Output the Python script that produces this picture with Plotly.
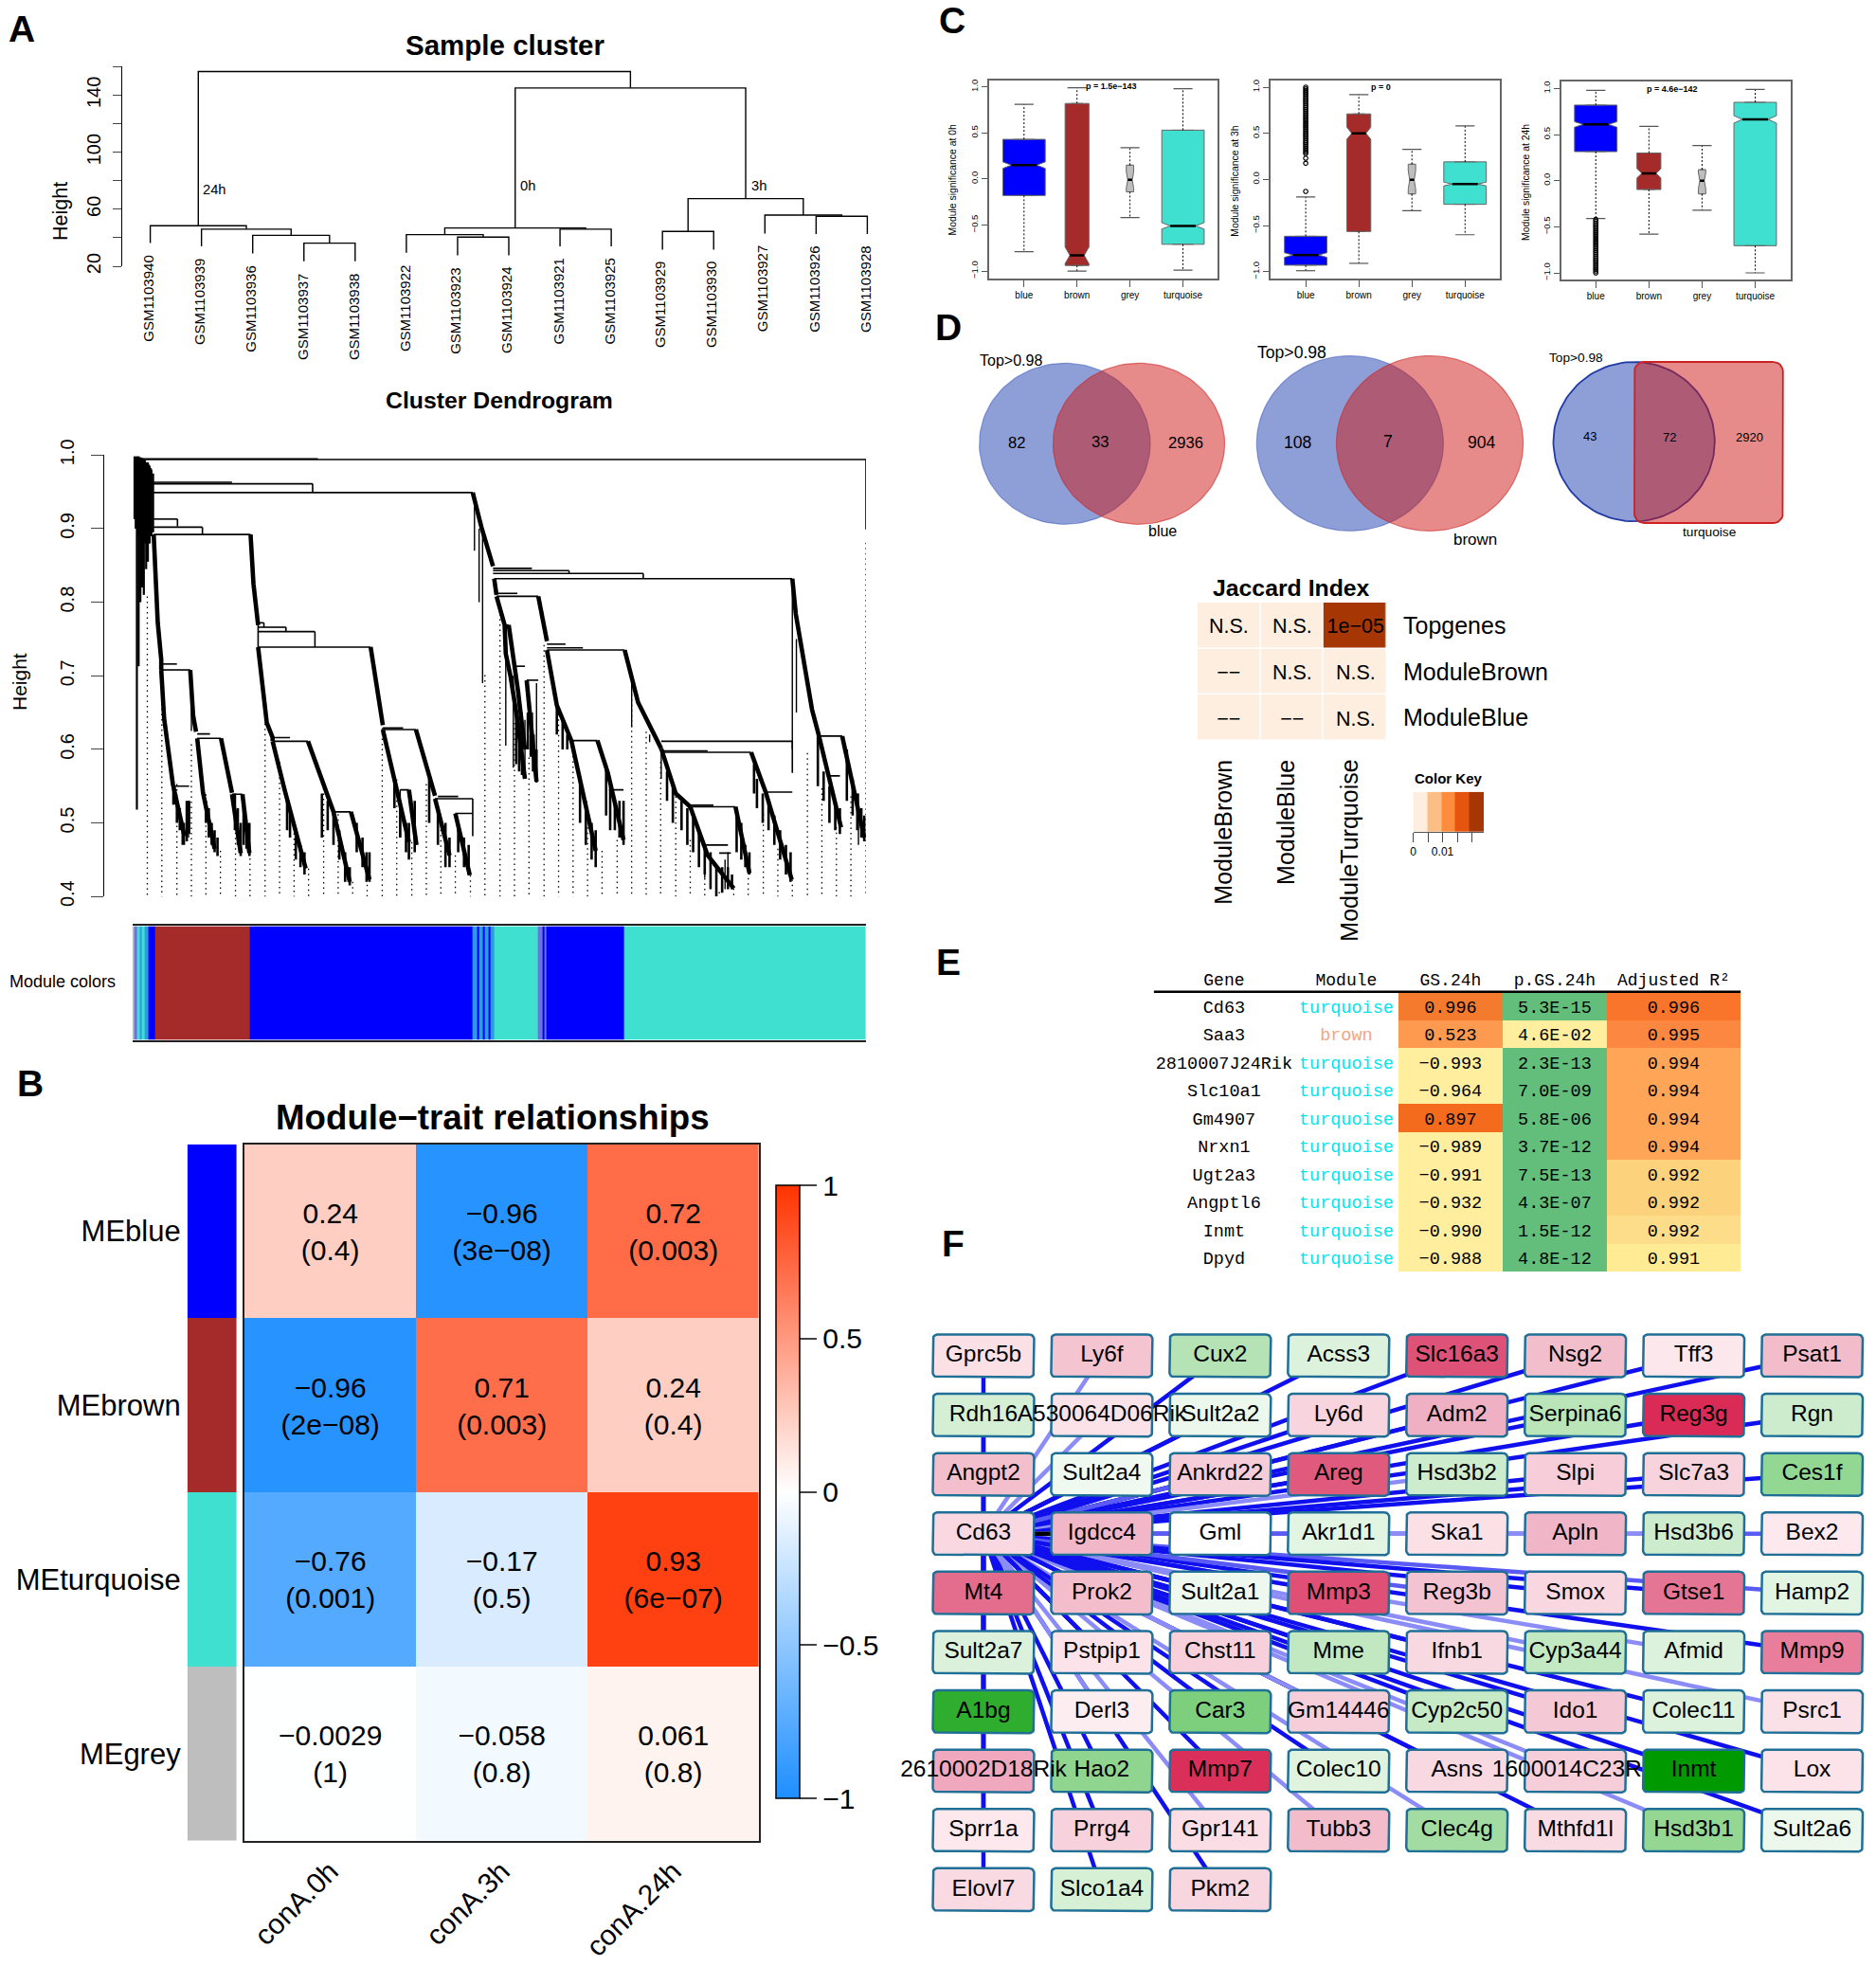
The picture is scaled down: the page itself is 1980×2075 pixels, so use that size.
import math
import plotly.graph_objects as go

W, H = 1980, 2075
SANS = "Liberation Sans"
MONO = "Liberation Mono"

# ---------- Panel A: sample dendrogram ----------
sample_ids = ["GSM1103940","GSM1103939","GSM1103936","GSM1103937","GSM1103938",
              "GSM1103922","GSM1103923","GSM1103924","GSM1103921","GSM1103925",
              "GSM1103929","GSM1103930","GSM1103927","GSM1103926","GSM1103928"]
leaf_hang = [36.2,34,29,23.5,23.5,29.5,27.7,27.7,34,34,31.7,31.7,43,42.6,42.6]
# hclust style merges: non-negative = leaf index, "m#" = earlier merge
merge_left  = [3,2,1,0,6,5,8,"m5",10,13,12,"m8","m7","m3"]
merge_right = [4,"m0","m1","m2",7,"m4",9,"m6",11,14,"m9","m10","m11","m12"]
merge_height = [36.2,41.7,46,48.4,40.4,42.2,46,46.8,44.4,55,55.9,67.4,145,156.5]

# ---------- Panel A: gene dendrogram ----------
bracket_left  = [232,232,262,262,262,265,265,265,445,445,445,445,278,278,298,340,340,400,470,470,575,660,660,690,750,755,785,
                 850,850,850,852,856,856,870,890,908,943,943,943,985,1050,1140,1142,1142,1190,1190,1320,1412,1430,1210,1240]
bracket_right = [1493,548,400,539,815,306,349,432,455,493,543,639,328,305,326,381,362,418,531,500,605,717,695,705,815,790,815,
                 917,981,1109,1366,928,892,877,905,928,1077,1005,975,1030,1075,1366,1295,1220,1268,1230,1366,1452,1448,1255,1260]
bracket_height = [.994,.995,.963,.961,.949,.913,.902,.892,.772,.766,.760,.739,.708,.716,.550,.615,.621,.539,.611,.616,.515,.627,.629,.545,.533,.536,.513,
                  .846,.843,.839,.832,.808,.812,.769,.713,.694,.735,.738,.743,.612,.545,.611,.596,.598,.522,.524,.542,.618,.564,.470,.459]
drop_x    = [1493,539,306,349,493,543,981,1109,815,1366,445,455]
drop_top  = [.994,.961,.913,.902,.766,.760,.843,.839,.533,.611,.772,.772]
drop_low  = [.899,.949,.903,.892,.760,.739,.839,.832,.482,.568,.739,.766]
waterfall_x = [
 [815,830,850],[432,437,445],[265,272,278,278],[278,283,298,318],[328,333,338],[340,350,370],[381,400],[400,415],[418,430],
 [445,460,470,470],[470,490,527],[531,575],[575,603],[605,620,637],[639,660],[660,680,705],[717,750],[750,775],[785,810],
 [705,718],[852,856],[856,870,872,880,892,905],[877,893,905],[908,925],[928,943],[943,960,985],[985,1027],[1030,1048,1075],
 [1077,1100,1140],[1140,1165,1190],[1190,1220,1265],[1268,1292],[1295,1320],[1320,1365],[1366,1372,1400,1412],[1412,1450],[1452,1490]]
waterfall_h = [
 [.949,.902,.849],[.892,.825,.769],[.892,.772,.722,.708],[.708,.642,.553,.482],[.708,.646,.624],[.615,.541,.465],[.615,.541],[.539,.459],[.539,.459],
 [.739,.636,.616,.611],[.611,.547,.438],[.611,.515],[.515,.420],[.515,.474,.423],[.739,.633],[.627,.559,.474],[.627,.537],[.533,.456],[.513,.429],
 [.545,.47],[.832,.810],[.808,.769,.73,.70,.64,.56],[.769,.68,.60],[.694,.556],[.808,.747],[.735,.66,.612],[.612,.462],[.612,.568,.477],
 [.735,.664,.601],[.601,.54,.522],[.522,.456,.411],[.522,.432],[.596,.542],[.542,.423],[.832,.784,.654,.618],[.618,.494],[.618,.480]]
mess_x   = [232,234,236,238,239,241,242,244,245,247,248,250,252,253,255,257,258,260,261,264]
mess_top = [.998,.998,.998,.998,.998,.997,.997,.996,.996,.995,.995,.993,.99,.99,.99,.987,.985,.982,.98,.975]
mess_low = [.913,.90,.518,.89,.713,.89,.80,.89,.82,.88,.81,.88,.845,.88,.855,.88,.88,.89,.89,.895]
spike_x   = [818,826,832,872,885,900,905,925,918,1089,1120,1373,1366,330,1140,298,318,325,690,1215,1255,1250,1480]
spike_top = [.93,.90,.90,.77,.70,.65,.64,.69,.65,.70,.62,.75,.83,.70,.60,.56,.50,.53,.545,.47,.46,.45,.54]
spike_low = [.87,.80,.69,.605,.575,.585,.56,.555,.57,.63,.61,.65,.60,.625,.56,.525,.47,.48,.48,.425,.42,.41,.47]
fur_x = [300,305,310,315,322,326,355,360,365,370,375,405,410,415,420,425,430,495,500,510,518,525,555,565,575,585,595,603,615,625,632,637,
         680,690,700,705,715,740,755,768,775,790,800,808,1000,1010,1020,1027,1045,1052,1060,1068,1075,1150,1160,1175,1185,
         1195,1205,1215,1225,1235,1245,1255,1262,1270,1278,1285,1292,1300,1305,1315,1325,1335,1345,1355,1363,
         1410,1420,1430,1440,1448,1460,1470,1478,1485,1490,890,895,900,910,915,920,925,960,970,978]
fur_top = [.55,.535,.52,.50,.53,.53,.53,.52,.50,.49,.48,.54,.52,.50,.52,.50,.50,.53,.52,.49,.47,.46,.54,.53,.515,.49,.46,.44,.50,.48,.46,.46,
           .56,.53,.50,.50,.53,.56,.52,.50,.48,.50,.48,.47,.56,.53,.50,.49,.58,.55,.53,.53,.53,.57,.55,.53,.52,
           .51,.49,.47,.46,.44,.44,.44,.43,.52,.50,.47,.46,.58,.56,.54,.53,.51,.49,.47,.46,
           .62,.57,.55,.53,.52,.60,.56,.54,.52,.51,.66,.63,.62,.65,.62,.62,.60,.66,.64,.62]
fur_low = [.525,.50,.49,.47,.475,.485,.50,.48,.47,.46,.455,.49,.47,.455,.47,.465,.455,.49,.48,.45,.44,.43,.48,.49,.47,.45,.42,.415,.46,.44,.42,.42,
           .52,.48,.46,.45,.46,.50,.47,.44,.44,.46,.44,.43,.50,.47,.45,.44,.51,.49,.49,.48,.47,.53,.50,.49,.47,
           .46,.44,.43,.41,.40,.405,.41,.41,.46,.45,.44,.43,.54,.52,.50,.49,.47,.45,.43,.42,
           .55,.53,.50,.49,.485,.53,.51,.49,.48,.475,.58,.57,.565,.60,.59,.57,.555,.62,.60,.60]
dotted_x = [254,279,305,330,355,380,406,431,457,482,507,532,558,583,608,633,659,684,710,735,760,785,811,836,862,887,912,938,963,988,
            1013,1038,1064,1089,1114,1139,1165,1190,1215,1240,1265,1290,1316,1341,1366,1392,1417,1442,1467,1493]
dotted_top = [.808,.719,.553,.607,.539,.462,.494,.459,.642,.583,.500,.438,.547,.512,.420,.423,.636,.559,.474,.553,.512,.456,.429,.701,.784,.636,.589,.742,.648,.612,
              .494,.462,.477,.689,.624,.583,.536,.477,.453,.406,.411,.432,.512,.465,.423,.595,.547,.494,.536,.881]
module_edges = [228,231,236,241,245,250,255,262,268,329,330,430,815,822,826,832,836,842,846,852,927,936,938,942,1075,1493]
module_ids   = [0,5,3,4,3,4,1,1,2,1,2,1,4,1,4,1,4,1,4,3,5,1,5,1,3]
module_scale = ["#BEBEBE","#0000FF","#A52A2A","#40E0D0","#2E9BE0","#6A74DC"]

# ---------- Panel B ----------
trait_names = ["conA.0h","conA.3h","conA.24h"]
me_names = ["MEblue","MEbrown","MEturquoise","MEgrey"]
me_colors = ["#0000FF","#A52A2A","#40E0D0","#BEBEBE"]
me_corr = [[0.24,-0.96,0.72],[-0.96,0.71,0.24],[-0.76,-0.17,0.93],[-0.0029,-0.058,0.061]]
me_text = [["0.24<br>(0.4)","−0.96<br>(3e−08)","0.72<br>(0.003)"],
           ["−0.96<br>(2e−08)","0.71<br>(0.003)","0.24<br>(0.4)"],
           ["−0.76<br>(0.001)","−0.17<br>(0.5)","0.93<br>(6e−07)"],
           ["−0.0029<br>(1)","−0.058<br>(0.8)","0.061<br>(0.8)"]]

# ---------- Panel C ----------
box_modules = ["blue","brown","grey","turquoise"]
box_fill = ["#0000FF","#A52A2A","#BEBEBE","#40E0D0"]
box_widths = [.8,.45,.14,.8]
q1_0h=[-.18,-.94,-.14,-.71]; med_0h=[.15,-.83,-.01,-.51]; q3_0h=[.43,.82,.15,.53]; lo_0h=[-.79,-1.0,-.42,-.99]; hi_0h=[.81,.99,.34,.98]; notch_0h=[.035,.09,.09,.035]
q1_3h=[-.93,-.565,-.158,-.27]; med_3h=[-.82,.50,-.005,-.05]; q3_3h=[-.616,.71,.165,.19]; lo_3h=[-.99,-.91,-.34,-.60]; hi_3h=[-.19,.92,.325,.58]; notch_3h=[.025,.065,.1,.02]
q1_24h=[.315,-.096,-.144,-.705]; med_24h=[.61,.08,0,.665]; q3_24h=[.82,.30,.12,.85]; lo_24h=[-.41,-.58,-.32,-1.0]; hi_24h=[.98,.59,.38,.99]; notch_24h=[.03,.05,.09,.04]
outlier_3h = [-.13,.175,.23,.28,.30,.32,.34,.36,.38,.40,.42,.44,.46,.48,.50,.52,.54,.56,.58,.60,.62,.64,.66,.68,.70,.72,.74,.76,.78,.80,.82,.84,.86,.88,.90,.92,.94,.96,.98,1.0]
outlier_24h = [-.42,-.44,-.46,-.48,-.50,-.52,-.54,-.56,-.58,-.60,-.62,-.64,-.66,-.68,-.70,-.72,-.74,-.76,-.78,-.80,-.82,-.84,-.86,-.88,-.90,-.92,-.94,-.96,-.98,-1.0]
box_p = ["p = 1.5e−143","p = 0","p = 4.6e−142"]

# ---------- Panel D ----------
venn_counts = [[82,33,2936],[108,7,904],[43,72,2920]]
venn_names = ["blue","brown","turquoise"]
jac_rows = ["Topgenes","ModuleBrown","ModuleBlue"]
jac_cols = ["ModuleBrown","ModuleBlue","ModuleTurquoise"]
jac_level = [[0,0,4],[0,0,0],[0,0,0]]
jac_text = [["N.S.","N.S.","1e−05"],["−−","N.S.","N.S."],["−−","−−","N.S."]]
key_edges = [0,.0049,.0096,.0143,.019,.024]
key_colors = ["#FDEEDF","#FDBE85","#FD8D3C","#E6550D","#A63603"]

# ---------- Panel E ----------
tbl_gene = ["Cd63","Saa3","2810007J24Rik","Slc10a1","Gm4907","Nrxn1","Ugt2a3","Angptl6","Inmt","Dpyd"]
tbl_module = ["turquoise","brown"]+["turquoise"]*8
tbl_gs = ["0.996","0.523","−0.993","−0.964","0.897","−0.989","−0.991","−0.932","−0.990","−0.988"]
tbl_p = ["5.3E-15","4.6E-02","2.3E-13","7.0E-09","5.8E-06","3.7E-12","7.5E-13","4.3E-07","1.5E-12","4.8E-12"]
tbl_r2 = ["0.996","0.995","0.994","0.994","0.994","0.994","0.992","0.992","0.992","0.991"]
tbl_gs_fill = ["#F47A2E","#FD9A4F","#FEEE9E","#FEEE9E","#F56B1E","#FEEE9E","#FEEE9E","#FEEE9E","#FEEE9E","#FEEE9E"]
tbl_p_fill = ["#63BE7B","#FEEE9E"]+["#63BE7B"]*8
tbl_r2_fill = ["#F8752B","#FB8740","#FFA557","#FFA557","#FFA557","#FFA557","#FDD27C","#FDD27C","#FEDD8A","#FFEB94"]

# ---------- Panel F ----------
net_names = [
 ["Gprc5b","Ly6f","Cux2","Acss3","Slc16a3","Nsg2","Tff3","Psat1"],
 ["Rdh16","A530064D06Rik","Sult2a2","Ly6d","Adm2","Serpina6","Reg3g","Rgn"],
 ["Angpt2","Sult2a4","Ankrd22","Areg","Hsd3b2","Slpi","Slc7a3","Ces1f"],
 ["Cd63","Igdcc4","Gml","Akr1d1","Ska1","Apln","Hsd3b6","Bex2"],
 ["Mt4","Prok2","Sult2a1","Mmp3","Reg3b","Smox","Gtse1","Hamp2"],
 ["Sult2a7","Pstpip1","Chst11","Mme","Ifnb1","Cyp3a44","Afmid","Mmp9"],
 ["A1bg","Derl3","Car3","Gm14446","Cyp2c50","Ido1","Colec11","Psrc1"],
 ["2610002D18Rik","Hao2","Mmp7","Colec10","Asns","1600014C23Rik","Inmt","Lox"],
 ["Sprr1a","Prrg4","Gpr141","Tubb3","Clec4g","Mthfd1l","Hsd3b1","Sult2a6"],
 ["Elovl7","Slco1a4","Pkm2"]]
net_fill = [
 ["#FBE0E6","#F5C4D1","#B5E3B5","#DDF2DD","#DF5278","#F2BECC","#FCE8EC","#F2BCCB"],
 ["#D5EFD5","#FBE2E8","#EDF8ED","#F8D5DE","#EEB0C2","#B9E5B9","#D92B56","#CDEBCD"],
 ["#F3BFCD","#F0F9F0","#F6CCD8","#E05A7E","#CDEBCD","#F6CDD8","#F7D3DD","#92D792"],
 ["#F9D8E1","#F1B7C8","#FFFFFF","#E2F4E2","#FBE0E6","#F0B5C6","#CDEBCD","#FCE8ED"],
 ["#E46D8E","#F3BDCC","#EEF8EE","#E04F76","#F4C3D1","#F8D7E0","#E57594","#E2F4E2"],
 ["#DBF1DB","#FBE3E9","#F7D0DB","#C2E8C2","#F8D8E1","#C3E9C3","#DDF2DD","#E87E9B"],
 ["#2EAD2E","#FCEDF0","#7DCF7D","#F6CEDA","#C6E9C6","#F5C8D5","#DCF2DC","#FAE0E7"],
 ["#EFA8BD","#8FD58F","#D92F59","#DFF3DF","#F8D9E2","#F6CEDA","#009A00","#FBE3E9"],
 ["#FCE8ED","#F7D2DC","#FADDE5","#F2BCCB","#A2DCA2","#F9DBE3","#93D793","#EDF8ED"],
 ["#F9DAE2","#D6F0D6","#F8D6DF"]]
net_edge = ["dldddddd","dldddddd","ddmdlddd","hkmmlllm","ddddmddm","ddlddlld","dldldddl","dddddldd","ddllldld","ddd"]
edge_colors = {"d":"#1010EE","l":"#8C8CF8","m":"#5A5AF4","k":"#000000"}

# ---------- helpers ----------
fig = go.Figure()
layout_axes = {}
n_axes = 0
def new_axes(px0, px1, py0, py1, xr, yr, xkw=None, ykw=None):
    global n_axes
    n_axes += 1
    s = "" if n_axes == 1 else str(n_axes)
    xk = dict(domain=[px0/W, px1/W], range=xr, anchor="y"+s, showgrid=False, zeroline=False, visible=False)
    yk = dict(domain=[1-py1/H, 1-py0/H], range=yr, anchor="x"+s, showgrid=False, zeroline=False, visible=False)
    xk.update(xkw or {}); yk.update(ykw or {})
    layout_axes["xaxis"+s] = xk
    layout_axes["yaxis"+s] = yk
    return "x"+s, "y"+s

annots = []
def txt(px, py, text, size, bold=False, angle=0, color="black", family=SANS, xanchor="center"):
    annots.append(dict(xref="paper", yref="paper", x=px/W, y=1-py/H, text=("<b>%s</b>" % text) if bold else text,
                       showarrow=False, textangle=angle, xanchor=xanchor, yanchor="middle",
                       font=dict(family=family, size=size, color=color)))

def seg_trace(xs, ys, xa, ya, color="black", width=1.2, dash=None, clip=False):
    fig.add_trace(go.Scatter(x=xs, y=ys, mode="lines", xaxis=xa, yaxis=ya, showlegend=False, hoverinfo="skip",
                             cliponaxis=clip, line=dict(color=color, width=width, dash=dash)))

def discrete_scale(cols):
    n = len(cols); out = []
    for i, c in enumerate(cols):
        out += [[i/n, c], [(i+1)/n, c]]
    return out

# panel letters
for ch, px, py in [("A",22.6,31),("B",32,1143),("C",1005,21),("D",1001,346),("E",1001,1015),("F",1005.5,1312)]:
    txt(px, py, ch, 39, bold=True)

# ---------- A top dendrogram ----------
xa, ya = new_axes(128.6, 930, 70.3, 281, [-.555, 14.27], [20,160],
    ykw=dict(visible=True, showline=True, linecolor="black", linewidth=1.2, ticks="outside", ticklen=9, tickwidth=1.2,
             tickvals=[20,40,60,80,100,120,140,160], ticktext=["20"," ","60"," ","100"," ","140"," "], tickangle=-90,
             ticklabelstandoff=5, tickfont=dict(family=SANS, size=20), ))
node_x = {}
hx, hy = [], []
def coord(ref):
    if isinstance(ref, str):
        return node_x[ref]
    return (ref, leaf_hang[ref])
for i,(l,r,h) in enumerate(zip(merge_left, merge_right, merge_height)):
    lx, lh = coord(l); rx, rh = coord(r)
    hx += [lx, lx, rx, rx, None]
    hy += [lh, h, h, rh, None]
    node_x["m%d" % i] = ((lx+rx)/2, h)
seg_trace(hx, hy, xa, ya, width=1.4)
for i, sid in enumerate(sample_ids):
    annots.append(dict(xref=xa, yref=ya, x=i, y=leaf_hang[i], yshift=-11, xshift=-2, text=sid, showarrow=False, textangle=-90,
                       xanchor="center", yanchor="top", font=dict(family=SANS, size=15)))
txt(533, 47, "Sample cluster", 29.5, bold=True)
txt(64, 223, "Height", 21.5, angle=-90)
txt(226.5, 200, "24h", 14.7); txt(556.5, 196, "0h", 14.7); txt(800.8, 196, "3h", 14.7)

# ---------- A gene dendrogram ----------
xa, ya = new_axes(110, 914, 480.3, 946.2, [179.7, 1493], [.4, 1],
    ykw=dict(visible=True, showline=True, linecolor="black", linewidth=1.2, ticks="outside", ticklen=13, tickwidth=1.2,
             tickvals=[.4,.5,.6,.7,.8,.9,1.0], ticktext=["0.4","0.5","0.6","0.7","0.8","0.9","1.0"], tickangle=-90,
             ticklabelstandoff=10, tickfont=dict(family=SANS, size=20)))
dx, dy = [], []
for x, t in zip(dotted_x, dotted_top):
    dx += [x, x, None]; dy += [t, .364, None]
seg_trace(dx, dy, xa, ya, width=1.3, dash="1.5px,4px")
bx, by = [], []
for l, r, h in zip(bracket_left, bracket_right, bracket_height):
    bx += [l, r, None]; by += [h, h, None]
for x, t, b in zip(drop_x, drop_top, drop_low):
    bx += [x, x, None]; by += [t, b, None]
seg_trace(bx, by, xa, ya, width=1.6)
sx, sy = [], []
for x, t, b in zip(spike_x, spike_top, spike_low):
    sx += [x, x, None]; sy += [t, b, None]
seg_trace(sx, sy, xa, ya, width=1.4)
fx, fy = [], []
for x, t, b in zip(fur_x, fur_top, fur_low):
    fx += [x, x, None]; fy += [t, b, None]
seg_trace(fx, fy, xa, ya, width=2.6)
mx, my = [], []
for x, t, b in zip(mess_x, mess_top, mess_low):
    mx += [x, x, None]; my += [t, b, None]
seg_trace(mx, my, xa, ya, width=2.2)
wx, wy = [], []
for xs, hs in zip(waterfall_x, waterfall_h):
    wx += xs + [None]; wy += hs + [None]
seg_trace(wx, wy, xa, ya, width=4.6)
txt(527, 423, "Cluster Dendrogram", 24.8, bold=True)
txt(20, 720, "Height", 21, angle=-90)

xa, ya = new_axes(139.6, 914, 977.4, 1097.7, [228, 1493], [0, 1],
    xkw=dict(visible=True, showline=True, mirror=True, linecolor="#222222", linewidth=2, showticklabels=False, ticks=""))
fig.add_trace(go.Heatmap(x=module_edges, y=[0,1], z=[module_ids], xaxis=xa, yaxis=ya, zmin=0, zmax=5, showscale=False, hoverinfo="skip",
    colorscale=discrete_scale(module_scale)))
txt(66, 1036, "Module colors", 18)

# ---------- B ----------
xa, ya = new_axes(197.7, 249.8, 1207.7, 1942.8, [-.5,.5], [3.5,-.5],
    ykw=dict(visible=True, tickvals=[0,1,2,3], ticktext=me_names, ticks="", showline=False, ticklabelstandoff=6,
             tickfont=dict(family=SANS, size=31)))
fig.add_trace(go.Heatmap(x=[0], y=[0,1,2,3], z=[[0],[1],[2],[3]], xaxis=xa, yaxis=ya, zmin=0, zmax=3, showscale=False, hoverinfo="skip",
    colorscale=discrete_scale(me_colors)))
frame = dict(visible=True, showline=True, linecolor="#222222", linewidth=1.5, mirror=True)
xa, ya = new_axes(257.7, 800.8, 1207.7, 1942.8, [-.5,2.5], [3.5,-.5],
    xkw=dict(tickvals=[0,1,2], ticktext=trait_names, tickangle=-45, ticks="outside", ticklen=1, tickcolor="rgba(0,0,0,0)",
             tickfont=dict(family=SANS, size=30), **frame),
    ykw=dict(showticklabels=False, ticks="", **frame))
fig.add_trace(go.Heatmap(x=[0,1,2], y=[0,1,2,3], z=me_corr, text=me_text, texttemplate="%{text}", xaxis=xa, yaxis=ya, zmin=-1, zmax=1,
    textfont=dict(family=SANS, size=30, color="black"), hoverinfo="skip",
    colorscale=[[0,"#1E8FFF"],[.5,"#FFFFFF"],[1,"#FF3300"]],
    colorbar=dict(x=818.6/W, xanchor="left", xpad=0, ypad=0, y=1-1251/H, yanchor="top", len=647, lenmode="pixels", thickness=25,
                  tickvals=[-1,-.5,0,.5,1], ticktext=["−1","−0.5","0","0.5","1"], ticks="outside", ticklen=18, tickwidth=1.5,
                  outlinecolor="black", outlinewidth=1.5, tickfont=dict(family=SANS, size=30))))
txt(520, 1179, "Module−trait relationships", 36.7, bold=True)

# ---------- C ----------
box_sets = [
 (1043.8,1284.9,84.7,294,[.338,4.65],[-1.082,1.072],q1_0h,med_0h,q3_0h,lo_0h,hi_0h,notch_0h,None,"0h",1005.5,190,1173,90.7,10.4),
 (1341,1582.7,84.7,294,[.338,4.65],[-1.075,1.075],q1_3h,med_3h,q3_3h,lo_3h,hi_3h,notch_3h,outlier_3h,"3h",1302.7,191,1457.7,91.7,10.4),
 (1647.8,1889.5,85.7,295.3,[.35,4.66],[-1.075,1.079],q1_24h,med_24h,q3_24h,lo_24h,hi_24h,notch_24h,outlier_24h,"24h",1610,193,1765,93.7,10.4)]
for k,(x0,x1,y0,y1,xr,yr,q1,med,q3,lo,hi,nt,outl,lab,tx,ty,px,py,fs) in enumerate(box_sets):
    fr = dict(visible=True, showline=True, linecolor="#666666", linewidth=1.5, mirror=True)
    xa, ya = new_axes(x0,x1,y0,y1,xr,yr,
        xkw=dict(tickvals=[1,2,3,4], ticktext=box_modules, ticks="outside", ticklen=7, tickcolor="#555555",
                 tickfont=dict(family=SANS, size=10), **fr),
        ykw=dict(tickvals=[-1,-.5,0,.5,1], tickformat=".1f", ticks="outside", ticklen=6, tickcolor="#555555", tickangle=-90,
                 tickfont=dict(family=SANS, size=9.5), **fr))
    wxs, wys, cxs, cys, mxs, mys = [], [], [], [], [], []
    for i in range(4):
        c = i+1; w = box_widths[i]
        wxs += [c,c,None,c,c,None]; wys += [q3[i],hi[i],None,q1[i],lo[i],None]
        cxs += [c-.18,c+.18,None,c-.18,c+.18,None]; cys += [hi[i],hi[i],None,lo[i],lo[i],None]
        mxs += [c-.3*w,c+.3*w,None]; mys += [med[i],med[i],None]
    seg_trace(wxs, wys, xa, ya, width=1, dash="2px,2px", clip=True)
    seg_trace(cxs, cys, xa, ya, color="#555555", width=1.2, clip=True)
    for i in range(4):
        fig.add_trace(go.Box(x=[i+1], q1=[q1[i]], median=[med[i]], q3=[q3[i]], lowerfence=[q1[i]], upperfence=[q3[i]],
            notchspan=[nt[i]], notched=True, notchwidth=.2, width=box_widths[i], fillcolor=box_fill[i],
            line=dict(color="#666666", width=1), xaxis=xa, yaxis=ya, showlegend=False, hoverinfo="skip", boxpoints=False))
    seg_trace(mxs, mys, xa, ya, width=2.5, clip=True)
    if outl is not None:
        fig.add_trace(go.Scatter(x=[1]*len(outl), y=outl, mode="markers", xaxis=xa, yaxis=ya, showlegend=False, hoverinfo="skip",
            marker=dict(symbol="circle-open", size=4.5, color="black", line=dict(width=1.2, color="black"))))
    txt(tx, ty, "Module significance at "+lab, fs, angle=-90)
    txt(px, py, box_p[k], 9, bold=True)

# ---------- D venns ----------
xa, ya = new_axes(1030, 1890, 370, 575, [1030,1890], [575,370])
BLUE_F, RED_F = "rgba(29,61,173,.5)", "rgba(205,23,21,.5)"
def ellipse(x0,x1,y0,y1,fc,lc,lw=1.2):
    cx,cy,rx,ry = (x0+x1)/2,(y0+y1)/2,(x1-x0)/2,(y1-y0)/2
    xs = [cx+rx*math.cos(t*math.pi/60) for t in range(121)]
    ys = [cy+ry*math.sin(t*math.pi/60) for t in range(121)]
    fig.add_trace(go.Scatter(x=xs,y=ys,mode="lines",fill="toself",fillcolor=fc,line=dict(color=lc,width=lw),xaxis=xa,yaxis=ya,showlegend=False,hoverinfo="skip"))
def roundpoly(cx,cy,hw,hh,rx,ry):
    xs,ys=[],[]
    for sx_,sy_,a0 in [(1,-1,-90),(1,1,0),(-1,1,90),(-1,-1,180)]:
        for d in range(0,91,15):
            a=math.radians(a0+d)
            xs.append(cx+sx_*(hw-rx)+rx*math.cos(a)); ys.append(cy+sy_*(hh-ry)+ry*math.sin(a))
    xs.append(xs[0]); ys.append(ys[0])
    return xs,ys
ellipse(1033.6,1214,383.3,553.3,BLUE_F,"rgba(40,70,180,.45)")
ellipse(1111.4,1292.5,383.3,553.3,RED_F,"rgba(205,40,40,.6)")
ellipse(1326.3,1523.4,375.5,560.3,BLUE_F,"rgba(40,70,180,.45)")
ellipse(1410.5,1607.6,375.5,560.3,RED_F,"rgba(205,40,40,.6)")
ellipse(1639.5,1809.8,382,550.3,BLUE_F,"#1F3AA5",1.8)
rx_, ry_ = roundpoly(1803.4,467,78.4,85,10,10)
fig.add_trace(go.Scatter(x=rx_,y=ry_,mode="lines",fill="toself",fillcolor=RED_F,line=dict(color="#CC2222",width=1.8),xaxis=xa,yaxis=ya,showlegend=False,hoverinfo="skip"))
venn_pos = [[(1073,467.5),(1161,466.6),(1251.7,467.5)],[(1369.7,467),(1465.4,466),(1563.6,467.5)],[(1678,460.5),(1762,461.4),(1846.8,461.8)]]
venn_fs = [16.6,17.6,13]
for cs,ps,fs in zip(venn_counts,venn_pos,venn_fs):
    for c,p in zip(cs,ps):
        txt(p[0],p[1],str(c),fs)
for p,s in [((1067,380),16),((1363,372),17.6),((1663,378),13.7)]:
    txt(p[0],p[1],"Top&gt;0.98",s)
for n,p,s in zip(venn_names,[(1226.8,560.7),(1556.6,569),(1804,561.6)],[16,17,13.7]):
    txt(p[0],p[1],n,s)

# Jaccard
xa, ya = new_axes(1263.8,1464,636,782,[-.5,2.5],[2.5,-.5],
    xkw=dict(visible=False),
    ykw=dict(visible=True,side="right",tickvals=[0,1,2],ticktext=jac_rows,ticks="outside",ticklen=11,tickcolor="rgba(0,0,0,0)",showline=False,tickfont=dict(family=SANS,size=25)))
fig.add_trace(go.Heatmap(x=[0,1,2],y=[0,1,2],z=jac_level,text=jac_text,texttemplate="%{text}",textfont=dict(family=SANS,size=21.5,color="black"),
    xaxis=xa,yaxis=ya,zmin=0,zmax=4,showscale=False,xgap=1.5,ygap=1.5,hoverinfo="skip",colorscale=[[0,key_colors[0]],[1,key_colors[4]]]))
for i, name in enumerate(jac_cols):
    annots.append(dict(xref=xa, yref="paper", x=i, y=1-800/H, xshift=-7, text=name, showarrow=False, textangle=-90,
                       xanchor="center", yanchor="top", font=dict(family=SANS, size=25)))
txt(1362.7,620,"Jaccard Index",24.8,bold=True)
xa, ya = new_axes(1491.5,1566,835.7,878,[0,.024],[0,1],
    xkw=dict(visible=True,tickvals=[0,.005,.01,.015,.02],ticktext=["0"," ","0.01"," "," "],ticks="outside",ticklen=10,tickwidth=1,showline=True,linecolor="#555555",
             tickfont=dict(family=SANS,size=12)))
fig.add_trace(go.Heatmap(x=key_edges,y=[0,1],z=[[0,1,2,3,4]],xaxis=xa,yaxis=ya,zmin=0,zmax=4,showscale=False,hoverinfo="skip",
    colorscale=discrete_scale(key_colors)))
txt(1528.5,821,"Color Key",15,bold=True)

# ---------- E table ----------
mod_font = ["#00E5EE" if m=="turquoise" else "#F4A582" for m in tbl_module]
fig.add_trace(go.Table(
    domain=dict(x=[1217.9/W,1837.2/W],y=[1-1350/H,1-1018/H]),
    columnwidth=[148,110,110,110,141],
    header=dict(values=["Gene","Module","GS.24h","p.GS.24h","Adjusted\u00a0R²"],height=29,fill_color="rgba(0,0,0,0)",line_width=0,
                align="center",font=dict(family=MONO,size=18,color="black")),
    cells=dict(values=[tbl_gene,tbl_module,tbl_gs,tbl_p,tbl_r2],height=29.5,line_width=0,align="center",
               fill_color=[["white"]*10,["white"]*10,tbl_gs_fill,tbl_p_fill,tbl_r2_fill],
               font=dict(family=MONO,size=18.5,color=[["black"]*10,mod_font,["black"]*10,["black"]*10,["black"]*10]))))

# ---------- F network ----------
xa, ya = new_axes(980,1980,1390,2020,[-.464,7.54],[9.409,-.655])
hub = (0,3)
edges = []
for r,row in enumerate(net_edge):
    for c,kind in enumerate(row):
        if kind=="h": continue
        edges.append(((c-hub[0])**2*4+(r-hub[1])**2,c,r,kind))
edges.sort(reverse=True)
for _,c,r,kind in edges:
    seg_trace([hub[0],c],[hub[1],r],xa,ya,color=edge_colors[kind],width=4.5,clip=True)
def add_node(c,r,fc):
    xs,ys = roundpoly(c,r,.428,.36,.04,.08)
    fig.add_trace(go.Scatter(x=xs,y=ys,mode="lines",fill="toself",fillcolor=fc,line=dict(color="#1F6F96",width=2.5),xaxis=xa,yaxis=ya,showlegend=False,hoverinfo="skip",cliponaxis=False))
for r,row in enumerate(net_names):
    for c,_ in enumerate(row):
        if row[c]!="Inmt":
            add_node(c,r,net_fill[r][c])
tx_,ty_,tt_=[],[],[]
for r,row in enumerate(net_names):
    for c,name in enumerate(row):
        if name!="Inmt":
            tx_.append(c);ty_.append(r);tt_.append(name)
fig.add_trace(go.Scatter(x=tx_,y=ty_,text=tt_,mode="text",textposition="middle center",textfont=dict(family=SANS,size=24.5,color="black"),
    xaxis=xa,yaxis=ya,showlegend=False,hoverinfo="skip",cliponaxis=False))
for r,row in enumerate(net_names):
    for c,name in enumerate(row):
        if name=="Inmt":
            add_node(c,r,net_fill[r][c])
            fig.add_trace(go.Scatter(x=[c],y=[r],text=[name],mode="text",textposition="middle center",textfont=dict(family=SANS,size=24.5,color="black"),
                xaxis=xa,yaxis=ya,showlegend=False,hoverinfo="skip",cliponaxis=False))

shapes = [dict(type="line",xref="paper",yref="paper",x0=1217.9/W,x1=1837.2/W,y0=1-1046.7/H,y1=1-1046.7/H,line=dict(color="black",width=2.5))]
fig.update_layout(width=W,height=H,autosize=False,margin=dict(l=0,r=0,t=0,b=0,pad=0,autoexpand=False),paper_bgcolor="white",plot_bgcolor="rgba(0,0,0,0)",
    showlegend=False,boxmode="overlay",annotations=annots,shapes=shapes,font=dict(family=SANS,color="black"),**layout_axes)
fig.write_html("out.html",post_script="document.body.style.margin='0';",config=dict(displayModeBar=False))
